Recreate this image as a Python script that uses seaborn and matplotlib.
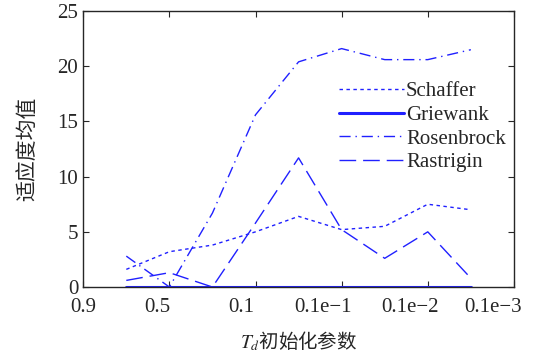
import numpy as np
import pandas as pd
import matplotlib
matplotlib.use("Agg")
import matplotlib.pyplot as plt
import matplotlib.transforms as mtransforms
import seaborn as sns

# 横轴刻度与数据点位置
tick_labels = ["0.9", "0.5", "0.1", "0.1e\u22121", "0.1e\u22122", "0.1e\u22123"]
x_vals = [0.5, 1.0, 1.5, 2.0, 2.5, 3.0, 3.5, 4.0, 4.5]

schaffer = [1.6, 3.2, 3.8, 5.0, 6.4, 5.2, 5.5, 7.5, 7.0]
griewank = [0.0, 0.0, 0.0, 0.0, 0.0, 0.0, 0.0, 0.0, 0.0]
rosenbrock = [2.8, 0.0, 6.7, 15.6, 20.4, 21.6, 20.6, 20.6, 21.5]
rastrigin = [0.6, 1.3, 0.0, 5.8, 11.7, 5.2, 2.6, 5.0, 0.8]

sns.set_style("ticks")
plt.rcParams["font.family"] = ["Liberation Serif", "Noto Sans CJK SC"]
plt.rcParams["mathtext.fontset"] = "stix"

fig = plt.figure(figsize=(5.37, 3.57), dpi=100)
ax = fig.add_axes([0.155, 0.196, 0.802, 0.773])

blue = "#2020ff"
series = [
    ("Schaffer", schaffer, (0, (2.5, 2.5)), 1.0),
    ("Griewank", griewank, "-", 2.2),
    ("Rosenbrock", rosenbrock, (0, (8, 3.5, 1, 3.5)), 1.0),
    ("Rastrigin", rastrigin, (0, (12, 5)), 1.0),
]
for name, vals, ls, lw in series:
    df = pd.DataFrame({"x": x_vals, "y": vals})
    sns.lineplot(data=df, x="x", y="y", ax=ax, color=blue, linestyle=ls,
                 linewidth=lw, label=name)

ax.set_xlim(0, 5)
ax.set_ylim(0, 25)
ax.set_xticks(range(len(tick_labels)))
ax.set_xticklabels(tick_labels)
ax.set_yticks([0, 5, 10, 15, 20, 25])
ax.tick_params(direction="in", top=True, right=True, labelsize=15, length=4)
ax.tick_params(axis="x", pad=8)
for s in ax.spines.values():
    s.set_linewidth(1.0)

# 参考图中横轴标签略向左偏移
shifts = [0, -12, -14, -19, -18, -21]
for lab, dx in zip(ax.get_xticklabels(), shifts):
    lab.set_transform(lab.get_transform() +
                      mtransforms.ScaledTranslation(dx / 100, 0, fig.dpi_scale_trans))

ax.set_xlabel("$T_d$\u521d\u59cb\u5316\u53c2\u6570", fontsize=14,
              family=["Noto Sans CJK SC"], labelpad=9)
ax.set_ylabel("\u9002\u5e94\u5ea6\u5747\u503c", fontsize=15,
              family=["Noto Sans CJK SC"], labelpad=14)

leg = ax.legend(loc="upper right", bbox_to_anchor=(1.01, 0.79), frameon=False,
                fontsize=15, handlelength=3.1, handletextpad=0.1,
                labelspacing=0.2, borderaxespad=0.2)

fig.savefig("out.png", dpi=100)
